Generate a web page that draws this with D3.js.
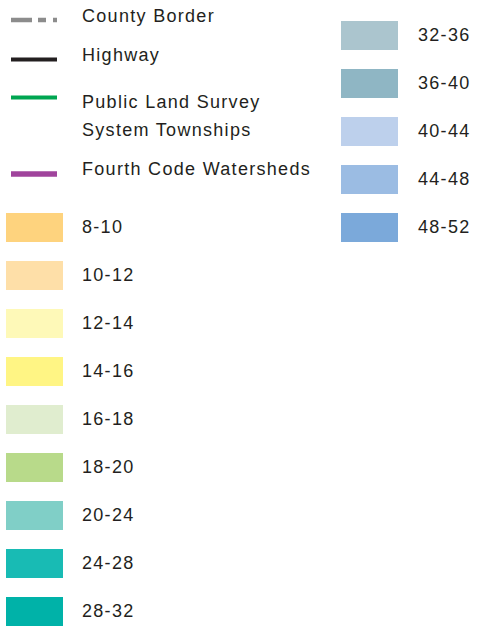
<!DOCTYPE html>
<html>
<head>
<meta charset="utf-8">
<script src="https://cdn.jsdelivr.net/npm/d3@7/dist/d3.min.js"></script>
<style>
  html, body { margin: 0; padding: 0; background: #fff; }
  text { font-family: "Liberation Sans", Arial, sans-serif; font-size: 18px; letter-spacing: 1.3px; fill: #231f20; }
</style>
</head>
<body>
<svg id="legend" width="479" height="631"></svg>
<script>
// line symbols
const lineLabels = [["County Border"], ["Highway"], ["Public Land Survey", "System Townships"], ["Fourth Code Watersheds"]];
const lineColors = ["#8c8c8c", "#231f20", "#00a651", "#a0449c"];
const lineWidths = [4.5, 4, 4, 5.5];
const lineDashes = ["21,6,8,7,8", null, null, null];

// range classes
const rangeLabels = ["8-10", "10-12", "12-14", "14-16", "16-18", "18-20", "20-24", "24-28", "28-32",
                     "32-36", "36-40", "40-44", "44-48", "48-52"];
const rangeColors = ["#fed37e", "#fedfa8", "#fef9b8", "#fff584", "#e0edcf", "#b8da8a", "#80cfc7", "#18bbb4", "#00b2a8",
                     "#abc5ce", "#8fb6c4", "#bdd0ec", "#9bbce3", "#7ba9da"];

const svg = d3.select('#legend');

// line rows: y of line center, text baselines
const lineY = d3.scaleOrdinal().domain(d3.range(4)).range([20, 59.5, 97.5, 174]);
const lineTextY = d3.scaleOrdinal().domain(d3.range(4)).range([22, 61, 108, 175]);

const lines = svg.selectAll('.line-item')
    .data(lineLabels)
    .enter().append('g')
    .classed('line-item', true);

lines.append('line')
    .attr('x1', 11).attr('x2', 57)
    .attr('y1', (d, i) => lineY(i)).attr('y2', (d, i) => lineY(i))
    .attr('stroke', (d, i) => lineColors[i])
    .attr('stroke-width', (d, i) => lineWidths[i])
    .attr('stroke-dasharray', (d, i) => lineDashes[i]);

lines.append('text')
    .attr('x', 82)
    .attr('y', (d, i) => lineTextY(i))
    .selectAll('tspan')
    .data(d => d)
    .enter().append('tspan')
    .attr('x', 82)
    .attr('dy', (d, j) => j === 0 ? 0 : 28)
    .text(d => d);

// swatches: first 9 in left column, rest in right column
const leftCount = 9;
const rowY = d3.scaleLinear().domain([0, 1]).range([0, 48]);
const colX = d3.scaleOrdinal().domain([0, 1]).range([6, 341]);
const colTop = d3.scaleOrdinal().domain([0, 1]).range([213, 21]);
const labelDx = d3.scaleOrdinal().domain([0, 1]).range([76, 77]);

const swatches = svg.selectAll('.swatch')
    .data(rangeLabels.map((label, i) => ({
        label: label,
        color: rangeColors[i],
        col: i < leftCount ? 0 : 1,
        row: i < leftCount ? i : i - leftCount
    })))
    .enter().append('g')
    .classed('swatch', true)
    .attr('transform', d => `translate(${colX(d.col)}, ${colTop(d.col) + rowY(d.row)})`);

swatches.append('rect')
    .attr('width', 57)
    .attr('height', 29)
    .attr('fill', d => d.color);

swatches.append('text')
    .attr('x', d => labelDx(d.col))
    .attr('y', 19.5)
    .text(d => d.label);
</script>
</body>
</html>
